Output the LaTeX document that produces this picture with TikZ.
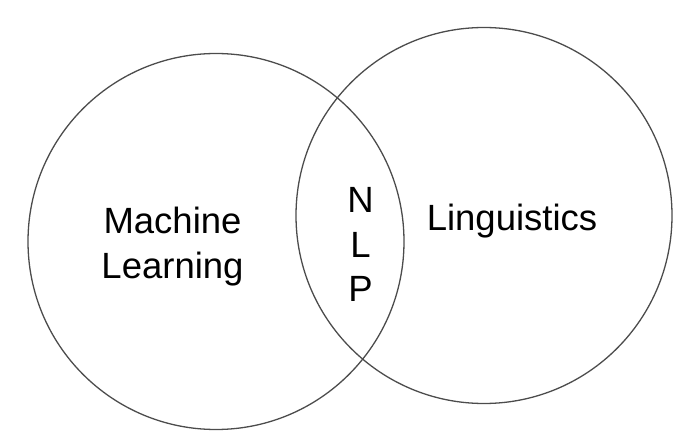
\documentclass[tikz,border=0pt]{standalone}
\usepackage{fontspec}
\setmainfont{Liberation Sans}
\begin{document}
\begin{tikzpicture}[
    x=1pt, y=-1pt,
    set/.style={circle, draw=black!70, line width=1.3pt, minimum size=376pt, inner sep=0pt},
    label/.style={align=center, inner sep=0pt, font=\fontsize{36.5}{45}\selectfont}
]
\useasboundingbox (0,0) rectangle (696,438);

\node[set] (ml) at (216,241.5) {};
\node[set] (ling) at (484,215.5) {};

\node[label, anchor=north] (mltext) at (172.5,207) {Machine\\Learning};
\node[label, anchor=base] (lingtext) at (512,230.5) {Linguistics};
\node[label, anchor=north, font=\fontsize{36.5}{44.5}\selectfont] (nlp) at (360.5,187.5) {N\\L\\P};

\end{tikzpicture}
\end{document}
